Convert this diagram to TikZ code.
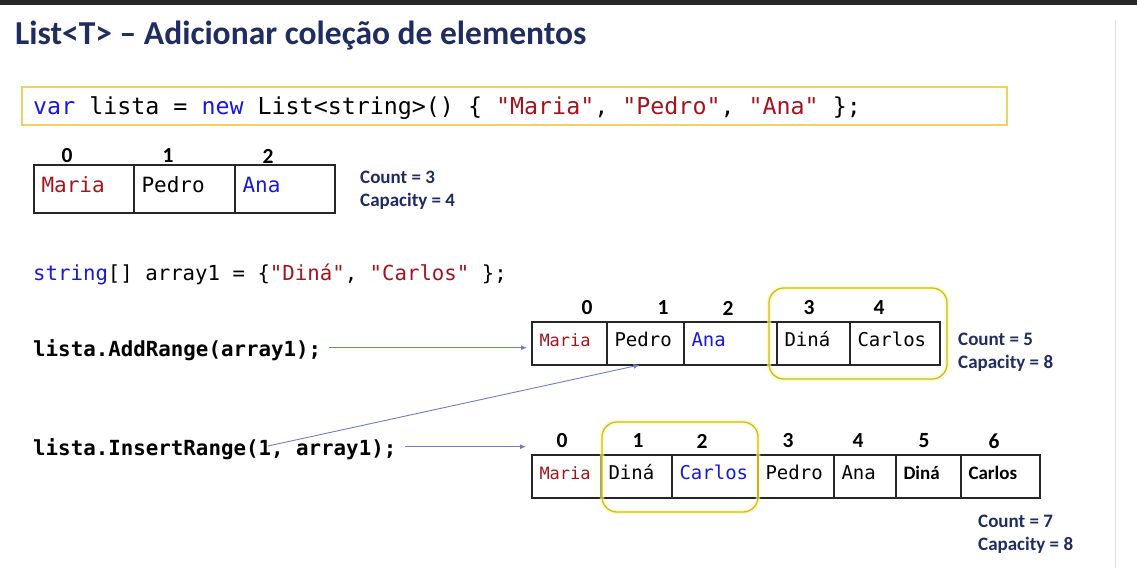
\documentclass[tikz,border=0pt]{standalone}
\usepackage{fontspec}
\setmainfont{Carlito}
\newfontfamily\codefont{DejaVu Sans Mono}[Ligatures=TeXOff]
\usetikzlibrary{positioning,arrows.meta}
\definecolor{navy}{RGB}{31,45,96}
\definecolor{strred}{RGB}{163,21,30}
\definecolor{kwblue}{RGB}{25,25,215}
\definecolor{ptrblue}{RGB}{110,125,200}
\definecolor{codegold}{RGB}{242,208,100}
\definecolor{hlyellow}{RGB}{196,188,60}
\definecolor{topbar}{RGB}{40,40,40}
\newcommand{\mono}[1]{\fontsize{#1}{#1}\codefont}
\tikzset{ptr/.style={draw=ptrblue, line width=0.9pt, -{Latex[length=6pt,width=5pt]}}}

\begin{document}
\begin{tikzpicture}[x=1pt, y=-1pt,
	cell/.style={draw=black!85, line width=1.2pt, outer sep=0pt, inner xsep=7.5pt, inner ysep=0pt,
		minimum width=#1, text width=#1-15, align=left, text height=14pt, text depth=8pt},
	rowa/.style={minimum height=48pt, font=\mono{21}},
	rowb/.style={minimum height=43pt, font=\mono{19}},
	idx/.style={font=\fontsize{21.5}{21.5}\selectfont\bfseries, inner sep=0pt},
	cnt/.style={font=\fontsize{19}{23}\selectfont\bfseries, text=navy, align=left, inner sep=0pt, anchor=west},
	hl/.style={draw=hlyellow, line width=1.3pt, rounded corners=15pt,
		preaction={draw=yellow!45, line width=4.5pt, opacity=0.6}}]
	\useasboundingbox (0,0) rectangle (1137,568);
	\fill[white] (0,0) rectangle (1137,568);
	\fill[topbar] (0,0) rectangle (1137,4.5);
	\draw[black!12, line width=1pt] (1115,20) -- (1115,568);
	% titulo
	\node[anchor=base west, inner sep=0pt, text=navy, font=\fontsize{33.5}{33.5}\selectfont\bfseries] (title) at (15,44) {List<T> -- Adicionar coleção de elementos};
	% declaracao
	\draw[codegold, line width=1.2pt, fill=white] (22,87) rectangle (1007,125);
	\node[anchor=base west, inner sep=0pt, font=\mono{23.3}] (decl) at (33,114) {\textcolor{kwblue}{var} lista = \textcolor{kwblue}{new} List<string>() \{ \textcolor{strred}{"Maria"}, \textcolor{strred}{"Pedro"}, \textcolor{strred}{"Ana"} \};};
	% lista inicial
	\node[cell=100, rowa, anchor=west] (a0) at (34,189) {\textcolor{strred}{Maria}};
	\node[cell=101, rowa, right=0pt of a0] (a1) {Pedro};
	\node[cell=100, rowa, right=0pt of a1] (a2) {\textcolor{kwblue}{Ana}};
	\foreach \x [count=\k from 0] in {67,168,268}
		\node[idx] (ia\k) at (\x,156) {\k};
	\node[cnt] (cnta) at (360,190) {Count = 3\\Capacity = 4};
	% array
	\node[anchor=base west, inner sep=0pt, font=\mono{20.7}] (arr) at (33,280) {\textcolor{kwblue}{string}[] array1 = \{\textcolor{strred}{"Diná"}, \textcolor{strred}{"Carlos"} \};};
	% AddRange
	\node[anchor=base west, inner sep=0pt, font={\mono{20.8}\bfseries}] (addr) at (33,356) {lista.AddRange(array1);};
	\node[cell=75, rowb, anchor=west] (b0) at (532,343.5) {\fontsize{17}{17}\selectfont\textcolor{strred}{Maria}};
	\node[cell=77, rowb, right=0pt of b0] (b1) {Pedro};
	\node[cell=93, rowb, right=0pt of b1] (b2) {\textcolor{kwblue}{Ana}};
	\node[cell=73, rowb, right=0pt of b2] (b3) {Diná};
	\node[cell=90, rowb, right=0pt of b3] (b4) {Carlos};
	\foreach \x [count=\k from 0] in {587,663,728,809,879}
		\node[idx] (ib\k) at (\x,308) {\k};
	\draw[hl] (769,288) rectangle (947,379);
	\node[cnt] (cntb) at (958,352) {Count = 5\\Capacity = 8};
	% InsertRange
	\node[anchor=base west, inner sep=0pt, font={\mono{20.8}\bfseries}] (ins) at (33,455) {lista.InsertRange(1, array1);};
	\node[cell=69, rowb, anchor=west] (c0) at (532,476.5) {\fontsize{17}{17}\selectfont\textcolor{strred}{Maria}};
	\node[cell=71, rowb, right=0pt of c0] (c1) {Diná};
	\node[cell=86, rowb, right=0pt of c1] (c2) {\textcolor{kwblue}{Carlos}};
	\node[cell=76, rowb, right=0pt of c2] (c3) {Pedro};
	\node[cell=62, rowb, right=0pt of c3] (c4) {Ana};
	\node[cell=65, rowb, right=0pt of c4] (c5) {\fontsize{19}{19}\rmfamily\bfseries Diná};
	\node[cell=79, rowb, right=0pt of c5] (c6) {\fontsize{19}{19}\rmfamily\bfseries Carlos};
	\foreach \x [count=\k from 0] in {562,638,702,788,858,924,994}
		\node[idx] (ic\k) at (\x,441) {\k};
	\draw[hl] (602,422) rectangle (758,512);
	\node[cnt] (cntc) at (978,534) {Count = 7\\Capacity = 8};
	% setas
	\coordinate (ins1) at (268,446);
	\draw[ptr, shorten <=8pt, shorten >=5pt] ([yshift=2pt]addr.east) -- ([yshift=2pt]addr.east -| b0.west);
	\draw[ptr, shorten <=8pt, shorten >=6pt] ([yshift=2pt]ins.east) -- ([yshift=2pt]ins.east -| c0.west);
	\draw[ptr] (ins1) -- ([xshift=-6pt]b1.south);
\end{tikzpicture}
\end{document}
